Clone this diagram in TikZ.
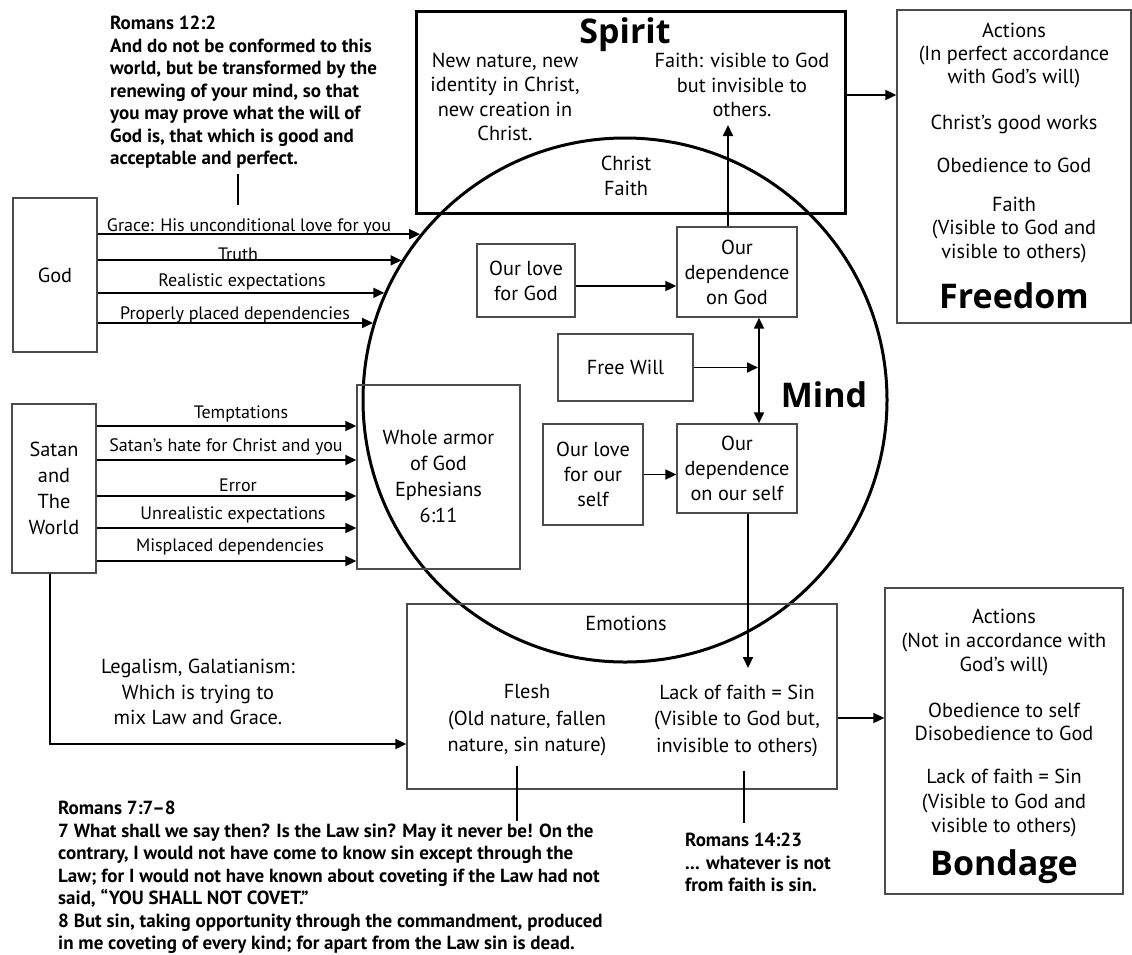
\documentclass[tikz,border=0pt]{standalone}
\usepackage{fontspec}
\setmainfont{PT Sans}
\newfontfamily\bigfam{Open Sans}
\usetikzlibrary{arrows.meta}
\definecolor{boxgray}{gray}{0.3}
\newcommand\fnorm[1]{\fontsize{20.3}{#1}\selectfont}
\newcommand\flab{\fontsize{18}{22}\selectfont}
\newcommand\fverse{\fontsize{19}{22.5}\selectfont\bfseries}
\newcommand\fhuge{\bigfam\fontsize{34}{38}\selectfont\bfseries}
\begin{document}
\begin{tikzpicture}[x=1pt,y=-1pt,
  box/.style={draw=boxgray,line width=1.3pt,inner sep=0pt},
  heavy/.style={draw=black,line width=3pt,inner sep=0pt},
  txt/.style={inner sep=0pt,align=center,font=\fnorm{24}},
  lab/.style={inner sep=0pt,align=center,font=\flab},
  verse/.style={inner sep=0pt,align=left,font=\fverse,anchor=north west},
  big/.style={inner sep=0pt,font=\fhuge,anchor=base},
  arr/.style={line width=1.8pt,-{Triangle[length=11pt,width=10pt]}},
  dbl/.style={line width=1.8pt,{Triangle[length=11pt,width=10pt]}-{Triangle[length=11pt,width=10pt]}},
  ln/.style={line width=1.8pt}]
\useasboundingbox (0,0) rectangle (1132,954);

% Mind circle
\node[heavy,circle,minimum size=524pt] (mind) at (625,400) {};
\node[big] (mindlbl) at (824,407) {Mind};

% Spirit
\node[heavy,minimum width=429pt,minimum height=202pt] (spirit) at (630.5,112) {};
\node[big] (spiritlbl) at (625,43) {Spirit};
\node[txt,font=\fnorm{24.5}] (newnature) at (505,97) {New nature, new\\identity in Christ,\\new creation in\\Christ.};
\node[txt,font=\fnorm{24.5}] (faithtxt) at (742,85) {Faith: visible to God\\but invisible to\\others.};
\node[txt,font=\fnorm{25}] (christfaith) at (626,176) {Christ\\Faith};

% Freedom box
\node[box,minimum width=234pt,minimum height=313pt] (freedom) at (1014,166.5) {};
\node[txt,font=\fnorm{23}] (fa1) at (1014,56) {Actions\\(In perfect accordance\\with God’s will)};
\node[txt] (fa2) at (1014,124) {Christ’s good works};
\node[txt] (fa3) at (1014,165) {Obedience to God};
\node[txt,font=\fnorm{23.5}] (fa4) at (1014,230) {Faith\\(Visible to God and\\visible to others)};
\node[big] (fa5) at (1014,308) {Freedom};

% Bondage box
\node[box,minimum width=238pt,minimum height=306pt] (bondage) at (1004,741) {};
\node[txt,font=\fnorm{24}] (ba1) at (1004,643) {Actions\\(Not in accordance with\\God’s will)};
\node[txt,font=\fnorm{23}] (ba2) at (1004,721.5) {Obedience to self\\Disobedience to God};
\node[txt,font=\fnorm{24.5}] (ba3) at (1004,803) {Lack of faith = Sin\\(Visible to God and\\visible to others)};
\node[big] (ba4) at (1004,875) {Bondage};

% God
\node[box,txt,minimum width=84pt,minimum height=154pt] (god) at (55,275) {God};
\draw[arr] (god.east |- mind.141.8) -- (mind.141.8);
\draw[arr] (god.east |- mind.148.5) -- (mind.148.5);
\draw[arr] (god.east |- mind.156.1) -- (mind.156.1);
\draw[arr] (god.east |- mind.163.8) -- (mind.163.8);
\node[lab] (lg1) at (249,227) {Grace: His unconditional love for you};
\node[lab] (lg2) at (238,254) {Truth};
\node[lab] (lg3) at (242,282) {Realistic expectations};
\node[lab] (lg4) at (235,315) {Properly placed dependencies};

% Romans 12:2
\node[verse] (rom12) at (110,16) {Romans 12:2\\And do not be conformed to this\\world, but be transformed by the\\renewing of your mind, so that\\you may prove what the will of\\God is, that which is good and\\acceptable and perfect.};
\coordinate (tick) at (238,205);
\draw[ln,shorten <=5pt] (rom12.south -| tick) -- (tick);

% Satan and the world
\node[box,txt,font=\fnorm{26},minimum width=84pt,minimum height=169pt] (satan) at (54,488.5) {Satan\\and\\The\\World};
\node[box,txt,font=\fnorm{26},minimum width=163pt,minimum height=184pt] (armor) at (438.5,477) {Whole armor\\of God\\Ephesians\\6:11};
\coordinate (s1) at (0,426);
\coordinate (s2) at (0,460);
\coordinate (s3) at (0,496);
\coordinate (s4) at (0,528);
\coordinate (s5) at (0,561);
\draw[arr] (satan.east |- s1) -- (armor.west |- s1);
\draw[arr] (satan.east |- s2) -- (armor.west |- s2);
\draw[arr] (satan.east |- s3) -- (armor.west |- s3);
\draw[arr] (satan.east |- s4) -- (armor.west |- s4);
\draw[arr] (satan.east |- s5) -- (armor.west |- s5);
\node[lab] (ls1) at (241,414) {Temptations};
\node[lab] (ls2) at (226,447) {Satan’s hate for Christ and you};
\node[lab] (ls3) at (238,485) {Error};
\node[lab] (ls4) at (233,515) {Unrealistic expectations};
\node[lab] (ls5) at (230,547) {Misplaced dependencies};

% inside the mind
\node[box,txt,font=\fnorm{25},minimum width=98pt,minimum height=73pt] (lovegod) at (526,280.5) {Our love\\for God};
\node[box,txt,font=\fnorm{25},minimum width=120pt,minimum height=90pt] (depgod) at (737,272) {Our\\dependence\\on God};
\node[box,txt,minimum width=135pt,minimum height=67pt] (freewill) at (625.5,367.5) {Free Will};
\node[box,txt,font=\fnorm{25},minimum width=100pt,minimum height=101pt] (loveself) at (593,474.5) {Our love\\for our\\self};
\node[box,txt,font=\fnorm{25},minimum width=120pt,minimum height=89pt] (depself) at (737,468.5) {Our\\dependence\\on our self};

\coordinate (yA) at (0,286);
\draw[arr] (lovegod.east |- yA) -- (depgod.west |- yA);
\coordinate (faithpt) at (728,125);
\draw[arr] (depgod.north -| faithpt) -- (faithpt);
\coordinate (xC) at (759,0);
\draw[dbl] (depgod.south -| xC) -- (depself.north -| xC);
\draw[arr,shorten >=1pt] (freewill.east) -- (freewill.east -| xC);
\draw[arr] (loveself.east) -- (loveself.east -| depself.west);

% Emotions
\node[box,minimum width=430pt,minimum height=185pt] (emotions) at (622,696.5) {};
\node[txt] (emolbl) at (626,623) {Emotions};
\node[txt,font=\fnorm{26.5}] (flesh) at (527,720.5) {Flesh\\(Old nature, fallen\\nature, sin nature)};
\node[txt,font=\fnorm{26.5}] (lack) at (737,720.5) {Lack of faith = Sin\\(Visible to God but,\\invisible to others)};
\coordinate (sinpt) at (748,668);
\draw[arr] (depself.south -| sinpt) -- (sinpt);

\coordinate (yE) at (0,718);
\draw[arr] (emotions.east |- yE) -- (bondage.west |- yE);
\coordinate (a1) at (0,95);
\draw[arr] (spirit.east |- a1) -- (freedom.west |- a1);

% Legalism
\coordinate (legal) at (50,744);
\draw[arr] (satan.south -| legal) |- (emotions.west |- legal);
\node[txt,font=\fnorm{25.5}] (legaltxt) at (198,692) {Legalism, Galatianism:\\Which is trying to\\mix Law and Grace.};

% Romans 7
\node[verse] (rom7) at (58,801) {Romans 7:7–8\\7 What shall we say then? Is the Law sin? May it never be! On the\\contrary, I would not have come to know sin except through the\\Law; for I would not have known about coveting if the Law had not\\said, “YOU SHALL NOT COVET.”\\8 But sin, taking opportunity through the commandment, produced\\in me coveting of every kind; for apart from the Law sin is dead.};
\coordinate (fltick) at (517,821);
\draw[ln,shorten <=9pt] (flesh.south -| fltick) -- (fltick);

% Romans 14:23
\node[verse] (rom14) at (685,833) {Romans 14:23\\... whatever is not\\from faith is sin.};
\coordinate (lt) at (744,0);
\draw[ln,shorten <=14pt,shorten >=10pt] (lack.south -| lt) -- (rom14.north -| lt);
\end{tikzpicture}
\end{document}
